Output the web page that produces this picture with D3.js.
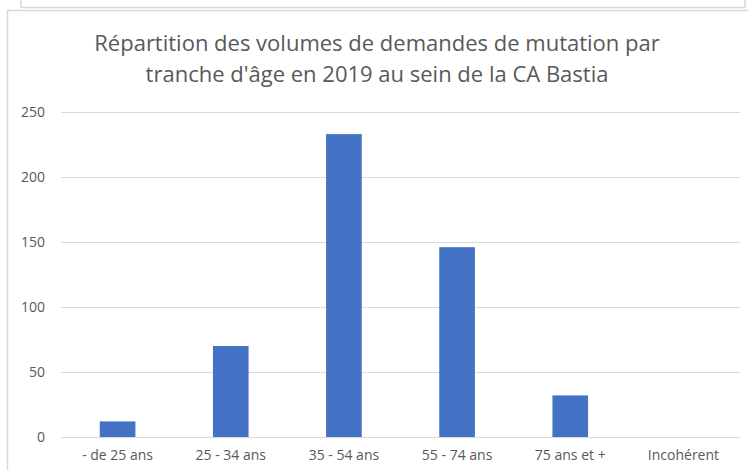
<!DOCTYPE html>
<html>
<head>
    <meta charset="UTF-8">
    <title>Répartition des demandes de mutation</title>
    <script src="https://cdn.jsdelivr.net/npm/d3@7"></script>
    <style>
        body { margin: 0; background: #ffffff; }
        svg text { font-family: "Open Sans", "Noto Sans", sans-serif; fill: #595959; }
    </style>
</head>
<body>
<svg id="chart" width="748" height="470"></svg>
<script>
    // data
    var categories = ["- de 25 ans", "25 - 34 ans", "35 - 54 ans", "55 - 74 ans", "75 ans et +", "Incohérent"];
    var values = [12, 70, 233, 146, 32, 0];
    var yTicks = [0, 50, 100, 150, 200, 250];
    var titleLines = ["Répartition des volumes de demandes de mutation par",
                      "tranche d'âge en 2019 au sein de la CA Bastia"];

    var svg = d3.select("#chart");

    // frames (chart area border + bottom of the box above it)
    var frame = "#d9d9d9";
    svg.append("path")
        .attr("d", "M21,0 V7.5 H745 V0")
        .attr("fill", "none").attr("stroke", frame).attr("stroke-width", 1.5);
    svg.append("path")
        .attr("d", "M7.5,470 V10.5 H748")
        .attr("fill", "none").attr("stroke", frame).attr("stroke-width", 1.5);

    // title
    svg.append("g").selectAll("text")
        .data(titleLines)
        .enter()
        .append("text")
        .attr("x", 377)
        .attr("y", function(d, i) { return 51 + i * 31; })
        .attr("text-anchor", "middle")
        .style("font-size", "22px")
        .text(function(d) { return d; });

    var x = d3.scaleBand()
        .domain(categories)
        .range([61, 740]);

    var y = d3.scaleLinear()
        .domain([0, 250])
        .range([437, 112]);

    // gridlines
    svg.append("g").selectAll("line")
        .data(yTicks)
        .enter()
        .append("line")
        .attr("x1", 61)
        .attr("x2", 740)
        .attr("y1", function(d) { return Math.round(y(d)) + 0.5; })
        .attr("y2", function(d) { return Math.round(y(d)) + 0.5; })
        .attr("stroke", "#d9d9d9")
        .attr("stroke-width", 1);

    // y axis labels
    var yAxis = d3.axisLeft(y)
        .tickValues(yTicks)
        .tickSize(0)
        .tickPadding(0);
    var gy = svg.append("g")
        .attr("transform", "translate(45,0)")
        .call(yAxis);
    gy.select(".domain").remove();
    gy.selectAll("text")
        .style("font-size", "14px")
        .attr("fill", "#595959");

    // x axis labels
    var xAxis = d3.axisBottom(x)
        .tickSize(0)
        .tickPadding(0);
    var gx = svg.append("g")
        .attr("transform", "translate(0,450)")
        .call(xAxis);
    gx.select(".domain").remove();
    gx.selectAll("text")
        .style("font-size", "14px")
        .attr("fill", "#595959");

    // bars
    var barW = x.bandwidth() * 0.315;
    svg.append("g").selectAll("rect")
        .data(values)
        .enter()
        .append("rect")
        .attr("x", function(d, i) { return x(categories[i]) + (x.bandwidth() - barW) / 2; })
        .attr("y", function(d) { return y(d); })
        .attr("width", barW)
        .attr("height", function(d) { return y(0) - y(d); })
        .attr("fill", "#4472c4");
</script>
</body>
</html>
